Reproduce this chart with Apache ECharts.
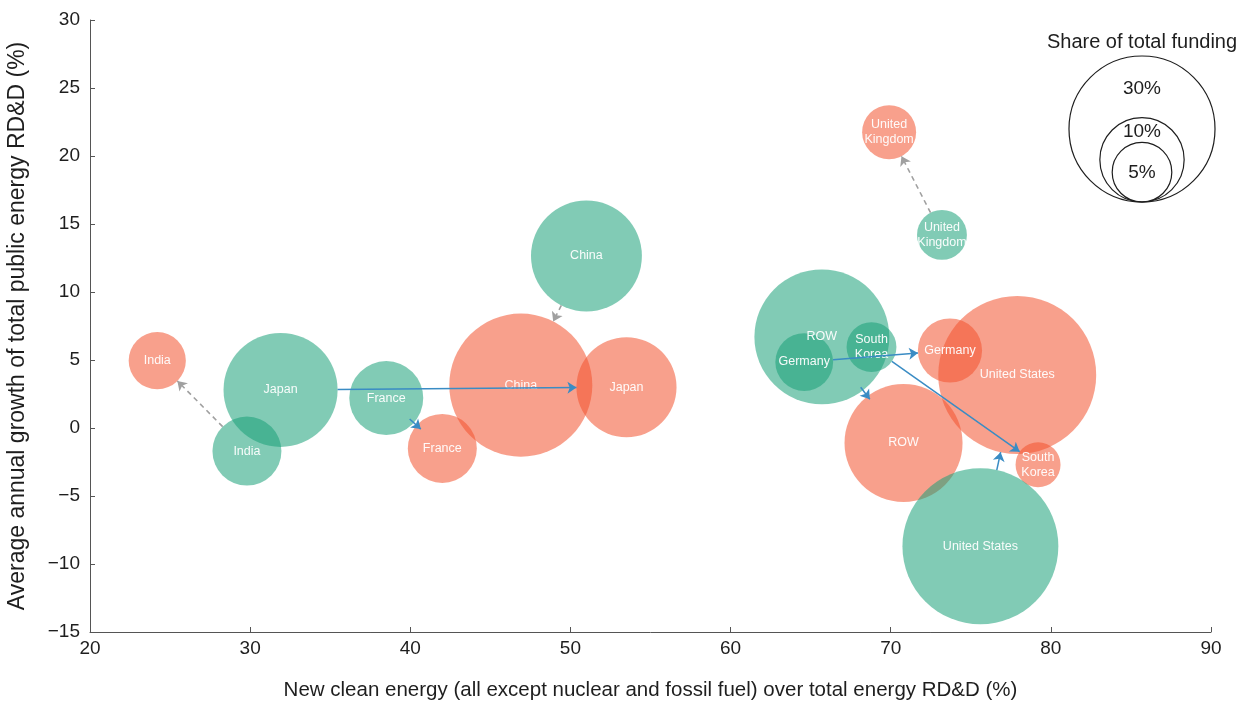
<!DOCTYPE html>
<html>
<head>
<meta charset="utf-8">
<script src="https://cdn.jsdelivr.net/npm/echarts@6/dist/echarts.min.js"></script>
<style>
  html, body { margin: 0; padding: 0; background: #ffffff; }
  #chart { width: 1252px; height: 701px; }
</style>
</head>
<body>
<div id="chart"></div>
<script>
// Countries, one bubble per period
const countries = ['India', 'Japan', 'France', 'China', 'ROW', 'Germany', 'South Korea', 'United Kingdom', 'United States'];

// Earlier period (green): new clean energy share of RD&D (%), annual growth (%), share of total funding (%)
const earlyCleanShare = [29.8, 31.9, 38.5, 51.0, 65.7, 64.6, 68.8, 73.2, 75.6];
const earlyGrowth     = [-1.7, 2.8, 2.2, 12.65, 6.7, 4.85, 5.95, 14.2, -8.7];
const earlyFunding    = [6.7, 18.3, 7.7, 17.3, 25.6, 4.7, 3.5, 3.5, 34.2];

// Later period (red)
const lateCleanShare = [24.2, 53.5, 42.0, 46.9, 70.8, 73.7, 79.2, 69.9, 77.9];
const lateGrowth     = [4.95, 3.0, -1.5, 3.15, -1.1, 5.7, -2.7, 21.75, 3.9];
const lateFunding    = [4.6, 14.1, 6.7, 28.8, 19.6, 5.8, 2.85, 4.1, 35.1];

// Countries whose change is drawn with a dashed grey arrow
const dashedChange = ['India', 'China', 'United Kingdom'];

// Funding shares shown in the size key
const keyShares = [30, 10, 5];

// Axis ranges
const xTicks = { min: 20, max: 90, step: 10 };
const yTicks = { min: -15, max: 30, step: 5 };

// Bubble radius grows with the square root of the funding share
const RADIUS_PER_SQRT_PCT = 13.33;
const radiusOf = share => RADIUS_PER_SQRT_PCT * Math.sqrt(share);

const FONT = '"Liberation Sans", Arial, Helvetica, sans-serif';
const GREEN = 'rgba(26,160,120,0.55)';
const RED = 'rgba(243,82,45,0.55)';
const BLUE_ARROW = '#3a8cc4';
const GREY_ARROW = '#a0a0a0';
const INK = '#1e1e1e';

const twoLine = name => (name === 'United Kingdom' || name === 'South Korea') ? name.replace(' ', '\n') : name;

function bubbles(xs, ys, fs) {
  return countries.map((c, i) => ({ name: c, value: [xs[i], ys[i], fs[i]] }));
}

const bubbleLabel = {
  show: true,
  position: 'inside',
  formatter: p => twoLine(p.name),
  color: 'rgba(255,255,255,0.95)',
  fontSize: 12.5,
  lineHeight: 15,
  fontFamily: FONT
};

function bubbleSeries(id, data, color) {
  return {
    id: id,
    name: id,
    type: 'scatter',
    data: data,
    symbol: 'circle',
    symbolSize: v => 2 * radiusOf(v[2]),
    itemStyle: { color: color, opacity: 1 },
    label: bubbleLabel,
    emphasis: { disabled: true },
    silent: true,
    z: 2
  };
}

const chart = echarts.init(document.getElementById('chart'), null, { renderer: 'canvas' });

// Size key: concentric circles resting on one point
const keyBottom = 202, keyCx = 1142;
const keyGraphics = [];
const keyR = keyShares.map(radiusOf);
keyShares.forEach((s, i) => {
  keyGraphics.push({
    type: 'circle',
    shape: { cx: keyCx, cy: keyBottom - keyR[i], r: keyR[i] },
    style: { fill: 'none', stroke: INK, lineWidth: 1.2 },
    silent: true
  });
  const top = keyBottom - 2 * keyR[i];
  const hasInner = i + 1 < keyShares.length;
  const ty = hasInner ? (top + keyBottom - 2 * keyR[i + 1]) / 2 + 2 : keyBottom - keyR[i] + 1;
  keyGraphics.push({
    type: 'text',
    x: keyCx, y: ty,
    style: { text: s + '%', fill: INK, font: '19px ' + FONT, align: 'center', verticalAlign: 'middle' },
    silent: true
  });
});
keyGraphics.push({
  type: 'text',
  x: 1142, y: 42,
  style: { text: 'Share of total funding', fill: INK, font: '20px ' + FONT, align: 'center', verticalAlign: 'middle' },
  silent: true
});

const minus = v => String(v).replace('-', '\u2212');

chart.setOption({
  animation: false,
  backgroundColor: '#ffffff',
  grid: { left: 90, right: 41, top: 20, bottom: 69, containLabel: false, outerBoundsMode: 'none' },
  xAxis: {
    type: 'value',
    min: xTicks.min, max: xTicks.max, interval: xTicks.step,
    name: 'New clean energy (all except nuclear and fossil fuel) over total energy RD&D (%)',
    nameLocation: 'middle',
    nameGap: 48,
    nameTextStyle: { color: INK, fontSize: 20.5, fontFamily: FONT },
    axisLine: { show: true, onZero: false, lineStyle: { color: '#555', width: 1 } },
    axisTick: { show: true, inside: true, length: 5, lineStyle: { color: '#555' } },
    axisLabel: { color: INK, fontSize: 19, fontFamily: FONT, margin: 7 },
    splitLine: { show: false }
  },
  yAxis: {
    type: 'value',
    min: yTicks.min, max: yTicks.max, interval: yTicks.step,
    name: 'Average annual growth of total public energy RD&D (%)',
    nameLocation: 'middle',
    nameGap: 61,
    nameTextStyle: { color: INK, fontSize: 23, fontFamily: FONT },
    axisLine: { show: true, onZero: false, lineStyle: { color: '#555', width: 1 } },
    axisTick: { show: true, inside: true, length: 5, lineStyle: { color: '#555' } },
    axisLabel: { color: INK, fontSize: 19, fontFamily: FONT, margin: 10, formatter: minus },
    splitLine: { show: false }
  },
  graphic: keyGraphics,
  series: [
    bubbleSeries('later', bubbles(lateCleanShare, lateGrowth, lateFunding), RED),
    bubbleSeries('earlier', bubbles(earlyCleanShare, earlyGrowth, earlyFunding), GREEN)
  ]
});

// Arrows from each earlier bubble to the later one, trimmed at the bubble edges
const MIN_ARROW = 15;
function arrowCoords(keep) {
  const out = [];
  countries.forEach((c, i) => {
    if (!keep(c)) return;
    const a = chart.convertToPixel({ gridIndex: 0 }, [earlyCleanShare[i], earlyGrowth[i]]);
    const b = chart.convertToPixel({ gridIndex: 0 }, [lateCleanShare[i], lateGrowth[i]]);
    const dx = b[0] - a[0], dy = b[1] - a[1];
    const len = Math.hypot(dx, dy);
    const ux = dx / len, uy = dy / len;
    const ra = radiusOf(earlyFunding[i]), rb = radiusOf(lateFunding[i]);
    let p1 = [a[0] + ux * ra, a[1] + uy * ra];
    let p2 = [b[0] - ux * rb, b[1] - uy * rb];
    const span = (p2[0] - p1[0]) * ux + (p2[1] - p1[1]) * uy;
    if (span < MIN_ARROW) {
      // bubbles touch or overlap: keep a short arrow centred on the gap
      const mx = (p1[0] + p2[0]) / 2, my = (p1[1] + p2[1]) / 2;
      const h = MIN_ARROW / 2;
      p1 = [mx - ux * h, my - uy * h];
      p2 = [mx + ux * h, my + uy * h];
    }
    out.push({
      coords: [
        chart.convertFromPixel({ gridIndex: 0 }, p1),
        chart.convertFromPixel({ gridIndex: 0 }, p2)
      ]
    });
  });
  return out;
}

chart.setOption({
  series: [
    {
      id: 'change',
      type: 'lines',
      coordinateSystem: 'cartesian2d',
      data: arrowCoords(c => dashedChange.indexOf(c) < 0),
      symbol: ['none', 'arrow'],
      symbolSize: 9,
      lineStyle: { color: BLUE_ARROW, width: 1.5, opacity: 1 },
      silent: true,
      z: 5
    },
    {
      id: 'changeDashed',
      type: 'lines',
      coordinateSystem: 'cartesian2d',
      data: arrowCoords(c => dashedChange.indexOf(c) >= 0),
      symbol: ['none', 'arrow'],
      symbolSize: 9,
      lineStyle: { color: GREY_ARROW, width: 1.6, type: [5, 4], opacity: 1 },
      silent: true,
      z: 5
    }
  ]
});
</script>
</body>
</html>
